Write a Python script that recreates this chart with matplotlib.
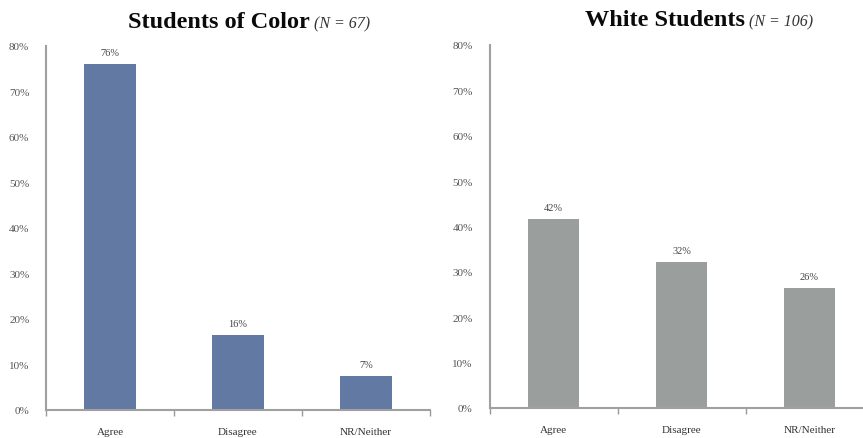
import matplotlib
matplotlib.use("Agg")
import matplotlib.pyplot as plt
import numpy as np

categories = ["Agree", "Disagree", "NR/Neither"]
color_values = [76.1, 16.4, 7.5]
color_labels = ["76%", "16%", "7%"]
white_values = [41.6, 32.1, 26.4]
white_labels = ["42%", "32%", "26%"]
yticks = [0, 10, 20, 30, 40, 50, 60, 70, 80]

W, H = 863, 439
fig = plt.figure(figsize=(W / 100, H / 100), dpi=100)
plt.rcParams['font.family'] = ['Liberation Serif', 'DejaVu Serif']

def px(x0, y_top, x1, y_bot):
    return [x0 / W, 1 - y_bot / H, (x1 - x0) / W, (y_bot - y_top) / H]

def draw(ax, values, labels, color):
    x = np.arange(len(categories))
    ax.bar(x, values, width=0.4, color=color, edgecolor='none', zorder=2)
    for xi, v, lab in zip(x, values, labels):
        ax.annotate(lab, (xi, v), xytext=(0, 5), textcoords='offset points',
                    ha='center', va='bottom', fontsize=7.5, color='#444444')
    ax.set_xlim(-0.5, len(categories) - 0.5)
    ax.set_ylim(0, 80)
    ax.set_yticks(yticks)
    ax.set_yticklabels([f"{t}%" for t in yticks], fontsize=8, color='#555555')
    ax.set_xticks(x)
    ax.set_xticklabels(categories, fontsize=8, color='#333333')
    ax.set_xticks(np.arange(len(categories) + 1) - 0.5, minor=True)
    ax.tick_params(axis='x', which='major', length=0, pad=12)
    ax.tick_params(axis='x', which='minor', length=4, color='#999999', width=1)
    ax.tick_params(axis='y', length=0, pad=12)
    for s in ['top', 'right']:
        ax.spines[s].set_visible(False)
    for s in ['left', 'bottom']:
        ax.spines[s].set_color('#a0a0a0')
        ax.spines[s].set_linewidth(1.5)

ax1 = fig.add_axes(px(46, 47, 430, 411))
draw(ax1, color_values, color_labels, '#6279a4')
ax2 = fig.add_axes(px(489.5, 46, 873.5, 409))
draw(ax2, white_values, white_labels, '#9a9e9c')

def title(xsplit, ybase, bold, ital):
    fig.text(xsplit / W, 1 - ybase / H, bold, ha='right', va='baseline',
             fontsize=17.5, fontweight='bold', color='#0a0a0a')
    fig.text((xsplit + 4) / W, 1 - ybase / H, ital, ha='left', va='baseline',
             fontsize=11.5, fontstyle='italic', color='#333333')

title(310, 28, "Students of Color", "(N = 67)")
title(745, 26, "White Students", "(N = 106)")

fig.savefig("out.png", dpi=100)
